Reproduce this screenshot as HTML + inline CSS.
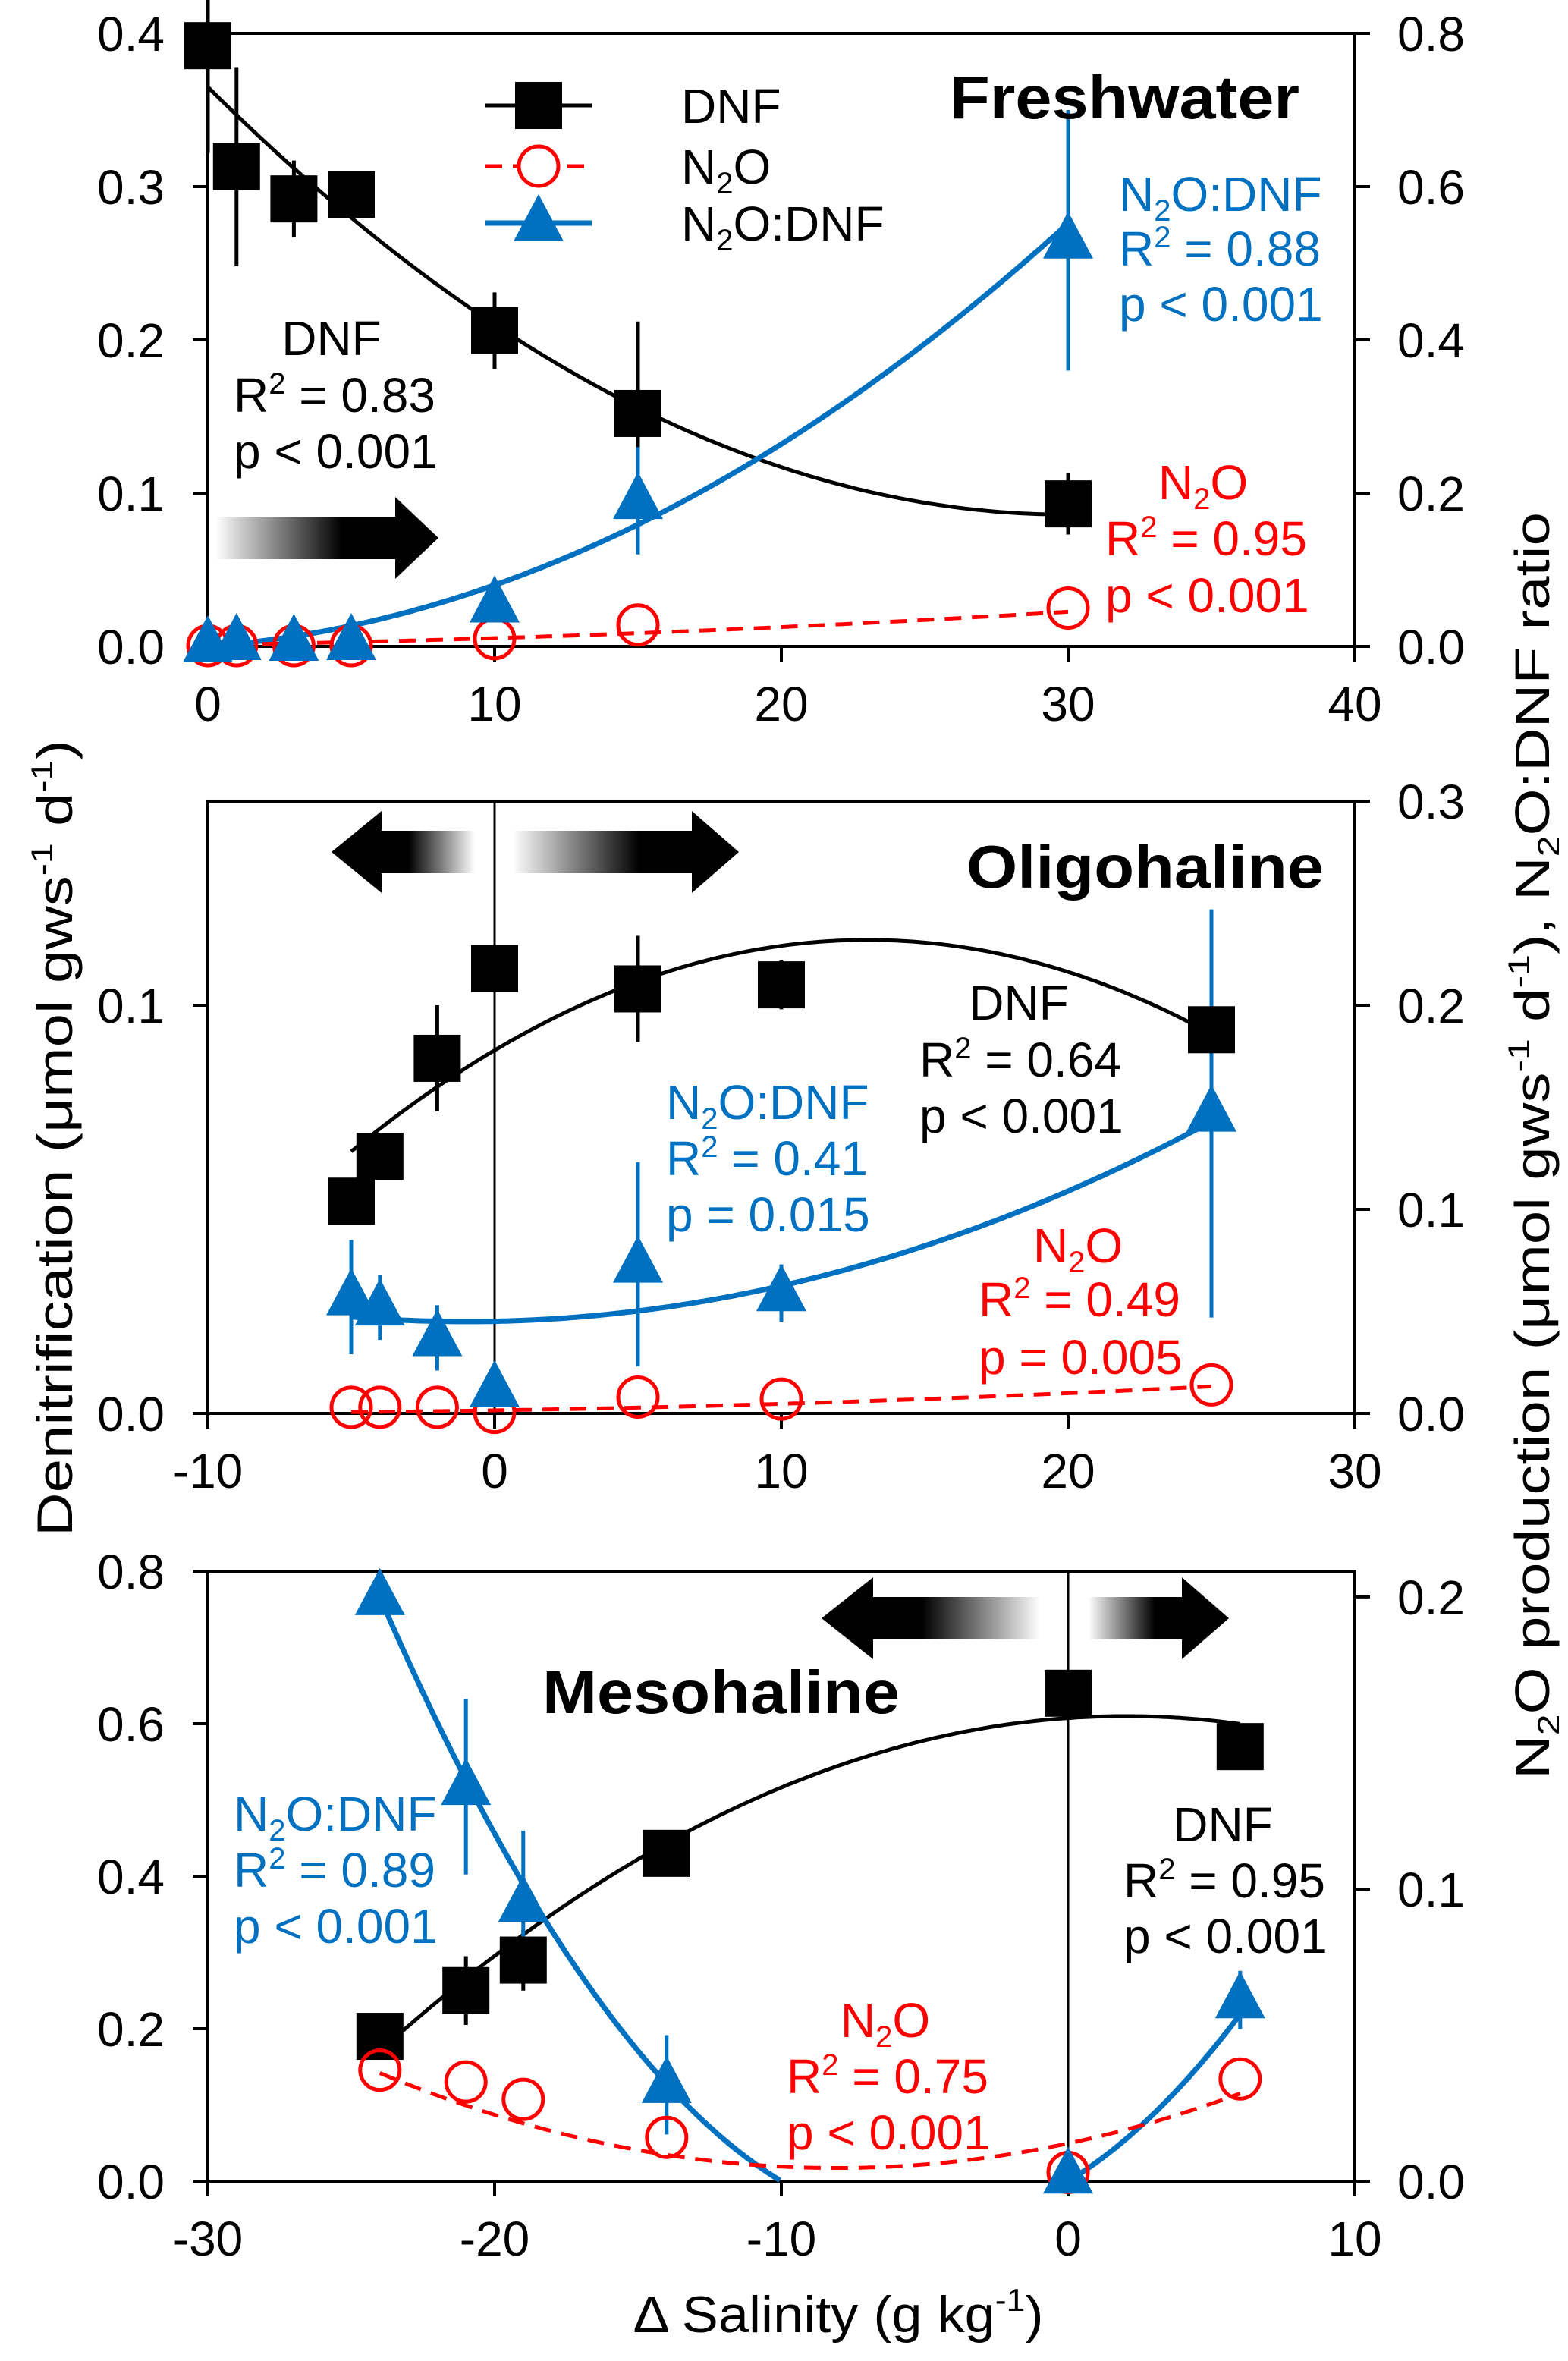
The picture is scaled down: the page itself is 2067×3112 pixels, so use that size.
<!DOCTYPE html>
<html><head><meta charset="utf-8"><style>
html,body{margin:0;padding:0;background:#fff;}
svg{display:block;font-family:"Liberation Sans",Arial,sans-serif;}
</style></head><body>
<svg id="chart" width="2067" height="3112" viewBox="0 0 2067 3112" xmlns="http://www.w3.org/2000/svg">
<defs>
<linearGradient id="gR" x1="0" x2="1" y1="0" y2="0"><stop offset="0" stop-color="#fff"/><stop offset="0.7" stop-color="#000"/><stop offset="1" stop-color="#000"/></linearGradient>
<linearGradient id="gL" x1="1" x2="0" y1="0" y2="0"><stop offset="0" stop-color="#fff"/><stop offset="0.7" stop-color="#000"/><stop offset="1" stop-color="#000"/></linearGradient>
</defs>
<g id="root"></g>
<text transform="translate(95,1500) rotate(-90)" text-anchor="middle" font-size="66" textLength="1050" lengthAdjust="spacingAndGlyphs">Denitrification (μmol gws<tspan font-size="40" dy="-26">-1</tspan><tspan dy="26"> d</tspan><tspan font-size="40" dy="-26">-1</tspan><tspan dy="26">)</tspan></text>
<text transform="translate(2042,1510) rotate(-90)" text-anchor="middle" font-size="64" textLength="1670" lengthAdjust="spacingAndGlyphs">N<tspan font-size="40" dy="13">2</tspan><tspan dy="-13">O production (μmol gws</tspan><tspan font-size="40" dy="-26">-1</tspan><tspan dy="26"> d</tspan><tspan font-size="40" dy="-26">-1</tspan><tspan dy="26">), N</tspan><tspan font-size="40" dy="13">2</tspan><tspan dy="-13">O:DNF ratio</tspan></text>
<text x="1105" y="3074" text-anchor="middle" font-size="68" textLength="541" lengthAdjust="spacingAndGlyphs">Δ Salinity (g kg<tspan font-size="42" dy="-28">-1</tspan><tspan dy="28">)</tspan></text>
</svg>
<script>
// ---------- data ----------
// Panel 1 Freshwater
const p1X = [0, 1, 3, 5, 10, 15, 30];
const p1Dnf = [0.392, 0.313, 0.292, 0.295, 0.206, 0.152, 0.093];
const p1DnfErr = [0.07, 0.065, 0.025, 0.0, 0.025, 0.06, 0.02];
const p1N2o = [0.001, 0.001, 0.001, 0.001, 0.01, 0.028, 0.05];
const p1Ratio = [0.003, 0.006, 0.005, 0.006, 0.055, 0.19, 0.53];
const p1RatioErr = [0, 0, 0, 0, 0, 0.07, 0.17];
const p1DnfFit = [0.365, -0.0186, 0.00031];
const p1N2oFit = [0.002, 0.0006, 0.000028];
const p1RatioFit = [0.0, 0.0028, 0.00052];
// Panel 2 Oligohaline
const p2X = [-5, -4, -2, 0, 5, 10, 25];
const p2Dnf = [0.052, 0.063, 0.087, 0.109, 0.104, 0.105, 0.094];
const p2DnfErr = [0.0, 0.005, 0.013, 0.0, 0.013, 0.006, 0.0];
const p2N2o = [0.003, 0.003, 0.003, 0.0005, 0.008, 0.007, 0.014];
const p2Ratio = [0.057, 0.052, 0.037, 0.012, 0.073, 0.059, 0.147];
const p2RatioErr = [0.028, 0.016, 0.016, 0.0, 0.05, 0.014, 0.1];
const p2DnfFit = [0.08896, 0.00416, -0.00016];
const p2N2oFit = [0.0015, 0.00022, 0.00001];
const p2RatioFit = [0.045145, 0.00029, 0.000145];
// Panel 3 Mesohaline
const p3X = [-24, -21, -19, -14, 0, 6];
const p3Dnf = [0.19, 0.25, 0.29, 0.43, 0.64, 0.57];
const p3DnfErr = [0.0, 0.045, 0.04, 0.0, 0.0, 0.03];
const p3N2o = [0.038, 0.034, 0.028, 0.015, 0.003, 0.035];
const p3Ratio = [0.2, 0.135, 0.095, 0.033, 0.002, 0.062];
const p3RatioErr = [0.0, 0.03, 0.025, 0.017, 0.0, 0.01];
const p3DnfFit = [0.6074, 0.0026, -0.00065];
const p3N2oFit = [0.01293, 0.002076, 0.0001283];
const p3RatioFit = [0.0, 0.00595, 0.000595];
// ticks
const p1XTicks = [0, 10, 20, 30, 40];
const p1LTicks = [0, 0.1, 0.2, 0.3, 0.4];
const p1RTicks = [0, 0.2, 0.4, 0.6, 0.8];
const p2XTicks = [-10, 0, 10, 20, 30];
const p2LTicks = [0, 0.1];
const p2RTicks = [0, 0.1, 0.2, 0.3];
const p3XTicks = [-30, -20, -10, 0, 10];
const p3LTicks = [0, 0.2, 0.4, 0.6, 0.8];
const p3RTicks = [0, 0.1, 0.2];

const NS = "http://www.w3.org/2000/svg";
const root = document.getElementById('root');
const BLUE = "#0070C0", RED = "#FF0000";
function mk(tag, attrs, parent) {
  const e = document.createElementNS(NS, tag);
  for (const k in attrs) e.setAttribute(k, attrs[k]);
  (parent || root).appendChild(e);
  return e;
}
const XL = 274, XR = 1786;

const panels = [
  {name:'freshwater', top:44, bot:852, x0:0, x1:40, lmax:0.4, rmax:0.8, X:p1X, dnf:p1Dnf, dnfE:p1DnfErr, n2o:p1N2o, ratio:p1Ratio, ratioE:p1RatioErr,
   dnfFit:p1DnfFit, n2oFit:p1N2oFit, ratioFit:p1RatioFit, fr:[0,30], xt:p1XTicks, lt:p1LTicks, rt:p1RTicks, vline:false},
  {name:'oligohaline', top:1056, bot:1863, x0:-10, x1:30, lmax:0.15, rmax:0.3, X:p2X, dnf:p2Dnf, dnfE:p2DnfErr, n2o:p2N2o, ratio:p2Ratio, ratioE:p2RatioErr,
   dnfFit:p2DnfFit, n2oFit:p2N2oFit, ratioFit:p2RatioFit, fr:[-5,25], xt:p2XTicks, lt:p2LTicks, rt:p2RTicks, vline:true},
  {name:'mesohaline', top:2071, bot:2875, x0:-30, x1:10, lmax:0.8, rmax:0.2088, X:p3X, dnf:p3Dnf, dnfE:p3DnfErr, n2o:p3N2o, ratio:p3Ratio, ratioE:p3RatioErr,
   dnfFit:p3DnfFit, n2oFit:p3N2oFit, ratioFit:p3RatioFit, fr:[-24,6], xt:p3XTicks, lt:p3LTicks, rt:p3RTicks, vline:true}
];

panels.forEach(p => {
  const g = mk('g', {});
  
  
  const sx = v => XL + (v - p.x0) / (p.x1 - p.x0) * (XR - XL);
  const sl = v => p.bot - v / p.lmax * (p.bot - p.top);
  const sr = v => p.bot - v / p.rmax * (p.bot - p.top);
  const fr = mk('rect', {x:XL, y:p.top, width:XR-XL, height:p.bot-p.top, fill:'none', stroke:'#000', 'stroke-width':4}, g);
  
  
  if (p.vline) {
    const vl = mk('line', {x1:sx(0), x2:sx(0), y1:p.top, y2:p.bot, stroke:'#000', 'stroke-width':3}, g);
    
    
  }
  p.xt.forEach(t => {
    mk('line', {x1:sx(t), x2:sx(t), y1:p.bot, y2:p.bot+20, stroke:'#000', 'stroke-width':4}, g);
    const tx = mk('text', {x:sx(t), y:p.bot+98, 'text-anchor':'middle', 'font-size':64}, g);
    tx.textContent = String(t);
    
    
  });
  p.lt.forEach(t => {
    mk('line', {x1:XL-20, x2:XL, y1:sl(t), y2:sl(t), stroke:'#000', 'stroke-width':4}, g);
    const tx = mk('text', {x:217, y:sl(t)+23, 'text-anchor':'end', 'font-size':64}, g);
    tx.textContent = t.toFixed(1);
    
    
  });
  p.rt.forEach(t => {
    mk('line', {x1:XR, x2:XR+20, y1:sr(t), y2:sr(t), stroke:'#000', 'stroke-width':4}, g);
    const tx = mk('text', {x:1842, y:sr(t)+23, 'text-anchor':'start', 'font-size':64}, g);
    tx.textContent = t.toFixed(1);
    
    
  });
  function fitPath(c, scale, dash, color, w, nm) {
    let d = '', pen = false;
    for (let i = 0; i <= 200; i++) {
      const x = p.fr[0] + (p.fr[1] - p.fr[0]) * i / 200;
      const y = c[0] + c[1]*x + c[2]*x*x;
      if (y < 0) { pen = false; continue; }
      d += (pen ? 'L' : 'M') + sx(x).toFixed(1) + ',' + scale(y).toFixed(1);
      pen = true;
    }
    const pa = mk('path', {d:d, fill:'none', stroke:color, 'stroke-width':w, 'stroke-dasharray':dash?'22 14':'none'}, g);
    
    
  }
  fitPath(p.dnfFit, sl, false, '#000', 5, p.name + '-dnf-fit');
  fitPath(p.ratioFit, sr, false, BLUE, 7, p.name + '-ratio-fit');
  fitPath(p.n2oFit, sr, true, RED, 5, p.name + '-n2o-fit');
  p.X.forEach((x, i) => {
    if (p.dnfE[i] > 0) mk('line', {x1:sx(x), x2:sx(x), y1:sl(p.dnf[i]-p.dnfE[i]), y2:sl(p.dnf[i]+p.dnfE[i]), stroke:'#000', 'stroke-width':5}, g);
    if (p.ratioE[i] > 0) mk('line', {x1:sx(x), x2:sx(x), y1:sr(p.ratio[i]-p.ratioE[i]), y2:sr(p.ratio[i]+p.ratioE[i]), stroke:BLUE, 'stroke-width':5}, g);
  });
  p.X.forEach((x, i) => {
    const sq = mk('rect', {x:sx(x)-31, y:sl(p.dnf[i])-31, width:62, height:62, fill:'#000'}, g);
    
    
  });
  p.X.forEach((x, i) => {
    const ci = mk('circle', {cx:sx(x), cy:sr(p.n2o[i]), r:26, fill:'none', stroke:RED, 'stroke-width':5}, g);
    
    
  });
  p.X.forEach((x, i) => {
    const cx = sx(x), cy = sr(p.ratio[i]);
    const tr = mk('polygon', {points:`${cx},${cy-38} ${cx+33},${cy+24} ${cx-33},${cy+24}`, fill:BLUE}, g);
    
    
  });
});

function arrow(x0, x1, tip, cy, dir, nm) {
  const ag = mk('g', {});
  
  
  if (dir > 0) {
    mk('rect', {x:x0, y:cy-28, width:x1-x0, height:56, fill:'url(#gR)'}, ag);
    mk('polygon', {points:`${x1-2},${cy-54} ${tip},${cy} ${x1-2},${cy+54}`, fill:'#000'}, ag);
  } else {
    mk('rect', {x:x0, y:cy-28, width:x1-x0, height:56, fill:'url(#gL)'}, ag);
    mk('polygon', {points:`${x0+2},${cy-54} ${tip},${cy} ${x0+2},${cy+54}`, fill:'#000'}, ag);
  }
}
arrow(284, 523, 578, 709, 1, 'freshwater-arrow');
arrow(501, 626, 437, 1123, -1, 'oligohaline-arrow-left');
arrow(676, 914, 974, 1123, 1, 'oligohaline-arrow-right');
arrow(1149, 1371, 1083, 2133, -1, 'mesohaline-arrow-left');
arrow(1435, 1560, 1620, 2133, 1, 'mesohaline-arrow-right');
</script>
<script>
const svg = document.getElementById('chart');
function txt(html, x, y, color, anchor, size, nm, bold, tl) {
  const t = document.createElementNS("http://www.w3.org/2000/svg", 'text');
  t.setAttribute('x', x); t.setAttribute('y', y);
  t.setAttribute('fill', color); t.setAttribute('text-anchor', anchor);
  t.setAttribute('font-size', size);
  if (bold) t.setAttribute('font-weight', 'bold');
  if (tl) { t.setAttribute('textLength', tl); t.setAttribute('lengthAdjust', 'spacingAndGlyphs'); }
  t.innerHTML = html;
  
  
  svg.appendChild(t);
}
const N2O = 'N<tspan font-size="40" dy="13">2</tspan><tspan dy="-13">O</tspan>';
const R2 = v => 'R<tspan font-size="40" dy="-24">2</tspan><tspan dy="24"> = ' + v + '</tspan>';
const K = '#000', B = '#0070C0', R = '#FF0000';
txt('Freshwater', 1252, 156, K, 'start', 80, 'panel-title-freshwater', true, 461);
txt('Oligohaline', 1274, 1170, K, 'start', 80, 'panel-title-oligohaline', true, 471);
txt('Mesohaline', 715, 2258, K, 'start', 80, 'panel-title-mesohaline', true, 471);
// panel1
txt('DNF', 437, 468, K, 'middle', 64, 'dnf-label');
txt(R2('0.83'), 308, 543, K, 'start', 64, 'dnf-r2');
txt('p &lt; 0.001', 308, 617, K, 'start', 64, 'dnf-p');
txt(N2O + ':DNF', 1475, 278, B, 'start', 64, 'ratio-label');
txt(R2('0.88'), 1475, 350, B, 'start', 64, 'ratio-r2');
txt('p &lt; 0.001', 1475, 423, B, 'start', 64, 'ratio-p');
txt(N2O, 1586, 658, R, 'middle', 64, 'n2o-label');
txt(R2('0.95'), 1457, 732, R, 'start', 64, 'n2o-r2');
txt('p &lt; 0.001', 1457, 807, R, 'start', 64, 'n2o-p');
// panel2
txt('DNF', 1343, 1344, K, 'middle', 64, 'dnf-label');
txt(R2('0.64'), 1212, 1419, K, 'start', 64, 'dnf-r2');
txt('p &lt; 0.001', 1212, 1493, K, 'start', 64, 'dnf-p');
txt(N2O + ':DNF', 878, 1475, B, 'start', 64, 'ratio-label');
txt(R2('0.41'), 878, 1549, B, 'start', 64, 'ratio-r2');
txt('p = 0.015', 878, 1623, B, 'start', 64, 'ratio-p');
txt(N2O, 1421, 1664, R, 'middle', 64, 'n2o-label');
txt(R2('0.49'), 1290, 1735, R, 'start', 64, 'n2o-r2');
txt('p = 0.005', 1290, 1811, R, 'start', 64, 'n2o-p');
// panel3
txt(N2O + ':DNF', 308, 2413, B, 'start', 64, 'ratio-label');
txt(R2('0.89'), 308, 2487, B, 'start', 64, 'ratio-r2');
txt('p &lt; 0.001', 308, 2561, B, 'start', 64, 'ratio-p');
txt('DNF', 1612, 2427, K, 'middle', 64, 'dnf-label');
txt(R2('0.95'), 1481, 2501, K, 'start', 64, 'dnf-r2');
txt('p &lt; 0.001', 1481, 2574, K, 'start', 64, 'dnf-p');
txt(N2O, 1167, 2685, R, 'middle', 64, 'n2o-label');
txt(R2('0.75'), 1037, 2759, R, 'start', 64, 'n2o-r2');
txt('p &lt; 0.001', 1037, 2833, R, 'start', 64, 'n2o-p');
// legend
const NSx = "http://www.w3.org/2000/svg";
const lg = document.createElementNS(NSx, 'g');


svg.appendChild(lg);
function L(tag, a) { const e = document.createElementNS(NSx, tag); for (const k in a) e.setAttribute(k, a[k]); lg.appendChild(e); return e; }
L('line', {x1:640, x2:780, y1:139, y2:139, stroke:'#000', 'stroke-width':5});
L('rect', {x:679, y:108, width:62, height:62, fill:'#000'});
L('line', {x1:640, x2:780, y1:219, y2:219, stroke:R, 'stroke-width':5, 'stroke-dasharray':'22 14'});
L('circle', {cx:710, cy:219, r:26, fill:'#fff', stroke:R, 'stroke-width':5});
L('line', {x1:640, x2:780, y1:294, y2:294, stroke:B, 'stroke-width':7});
L('polygon', {points:'710,256 743,318 677,318', fill:B});
txt('DNF', 898, 162, K, 'start', 64, 'legend-label-dnf');
txt(N2O, 898, 242, K, 'start', 64, 'legend-label-n2o');
txt(N2O + ':DNF', 898, 317, K, 'start', 64, 'legend-label-ratio');
</script>
</body></html>
